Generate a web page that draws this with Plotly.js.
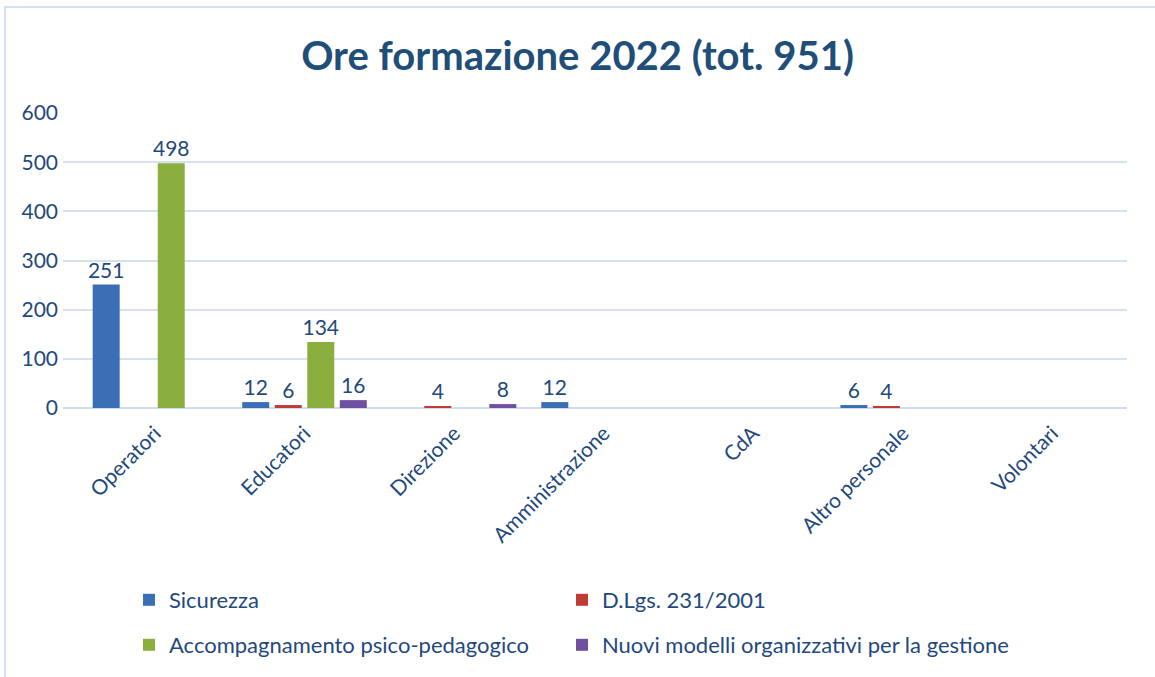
<!DOCTYPE html>
<html>
<head>
<meta charset="utf-8">
<script src="https://cdn.plot.ly/plotly-3.0.1.min.js"></script>
<style>
  html, body { margin: 0; padding: 0; background: #fff; }
  #wrap { position: relative; width: 1155px; height: 677px; }
  #chart { width: 1155px; height: 677px; }
  #frame { position: absolute; left: 4px; top: 6px; width: 1160px; height: 700px;
           border-left: 2px solid #D5E2F3; border-top: 2px solid #D5E2F3; pointer-events: none; }
</style>
</head>
<body>
<div id="wrap">
  <div id="chart"></div>
  <div id="frame"></div>
</div>
<script>
const categories = ["Operatori", "Educatori", "Direzione", "Amministrazione", "CdA", "Altro personale", "Volontari"];
const sicurezza = [251, 12, 0, 12, 0, 6, 0];
const dlgs = [0, 6, 4, 0, 0, 4, 0];
const accompagnamento = [498, 134, 0, 0, 0, 0, 0];
const nuoviModelli = [0, 16, 8, 0, 0, 0, 0];
const seriesNames = ["Sicurezza", "D.Lgs. 231/2001", "Accompagnamento psico-pedagogico", "Nuovi modelli organizzativi per la gestione"];
const yTicks = [0, 100, 200, 300, 400, 500, 600];

const textColor = "#1F497D";
const colors = ["#3A6FB5", "#BE3B36", "#8BAF3F", "#7050A0"];
const legendIds = ["legend", "legend2", "legend3", "legend4"];
const allSeries = [sicurezza, dlgs, accompagnamento, nuoviModelli];

const traces = allSeries.map((vals, i) => ({
  type: "bar",
  name: seriesNames[i],
  x: categories,
  y: vals,
  text: vals.map(v => v > 0 ? String(v) : ""),
  textposition: "outside",
  constraintext: "none",
  cliponaxis: false,
  textfont: { family: "Lato, sans-serif", size: 21, color: textColor },
  marker: { color: colors[i] },
  legend: legendIds[i],
  hoverinfo: "x+y+name"
}));

const legendCommon = {
  orientation: "h",
  xref: "container", yref: "container",
  xanchor: "left", yanchor: "middle",
  font: { family: "Lato, sans-serif", size: 22, color: textColor },
  bgcolor: "rgba(0,0,0,0)"
};

const col1 = 129 / 1155, col2 = 562 / 1155;
const row1 = 1 - 600 / 677, row2 = 1 - 645 / 677;

const layout = {
  width: 1155, height: 677,
  margin: { l: 63, r: 28, t: 113, b: 269 },
  paper_bgcolor: "#ffffff",
  plot_bgcolor: "#ffffff",
  barmode: "group",
  bargap: 0.13,
  bargroupgap: 0.17,
  title: {
    text: "Ore formazione 2022 (tot. 951)",
    font: { family: "Lato, sans-serif", size: 40, color: "#1F4E79", weight: "bold" },
    x: 0.5, xanchor: "center", xref: "container",
    y: 1 - 56 / 677, yanchor: "middle", yref: "container"
  },
  xaxis: {
    type: "category",
    range: [-0.615, 6.5],
    tickangle: -45,
    tickfont: { family: "Lato, sans-serif", size: 21, color: textColor },
    ticklabelstandoff: 8,
    showgrid: false, zeroline: false, showline: false, ticks: "",
    fixedrange: true
  },
  yaxis: {
    range: [0, 600],
    tickvals: yTicks,
    ticktext: yTicks.map(String),
    tickfont: { family: "Lato, sans-serif", size: 21, color: textColor },
    showgrid: true, gridcolor: "#D6E1F0", gridwidth: 1.5,
    zeroline: true, zerolinecolor: "#D0DDF0", zerolinewidth: 2,
    showline: false, ticks: "", ticklabelstandoff: 4,
    fixedrange: true
  },
  showlegend: true,
  legend: Object.assign({}, legendCommon, { x: col1, y: row1 }),
  legend2: Object.assign({}, legendCommon, { x: col2, y: row1 }),
  legend3: Object.assign({}, legendCommon, { x: col1, y: row2 }),
  legend4: Object.assign({}, legendCommon, { x: col2, y: row2 })
};

Plotly.newPlot("chart", traces, layout, { displayModeBar: false, staticPlot: false });
</script>
</body>
</html>
